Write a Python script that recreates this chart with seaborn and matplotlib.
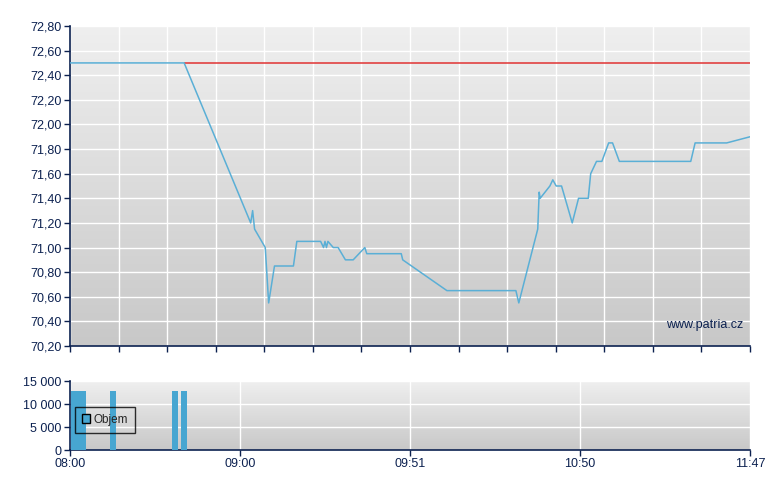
import numpy as np
import pandas as pd
import matplotlib
matplotlib.use("Agg")
import matplotlib.pyplot as plt
from matplotlib.ticker import FuncFormatter, MultipleLocator
from matplotlib.patches import Patch
import seaborn as sns

# --- data (x = position on the session axis, 14 grid steps) ---
PRICE_X = [0, 2.35, 3.72, 3.76, 3.80, 4.02, 4.09, 4.21, 4.60, 4.67, 5.16, 5.22,
           5.25, 5.28, 5.31, 5.42, 5.52, 5.67, 5.83, 6.07, 6.11, 6.82, 6.85,
           7.76, 9.18, 9.24, 9.63, 9.66, 9.68, 9.88, 9.94, 10.01, 10.12, 10.34,
           10.47, 10.67, 10.72, 10.84, 10.95, 11.09, 11.17, 11.31, 12.78, 12.87,
           13.52, 14.0]
PRICE = [72.50, 72.50, 71.20, 71.30, 71.15, 71.00, 70.55, 70.85, 70.85, 71.05,
         71.05, 71.00, 71.05, 71.00, 71.05, 71.00, 71.00, 70.90, 70.90, 71.00,
         70.95, 70.95, 70.90, 70.65, 70.65, 70.55, 71.15, 71.45, 71.40, 71.50,
         71.55, 71.50, 71.50, 71.20, 71.40, 71.40, 71.60, 71.70, 71.70, 71.85,
         71.85, 71.70, 71.70, 71.85, 71.85, 71.90]
PREV_CLOSE = 72.50
PREV_CLOSE_FROM = 2.35

VOL_X = [0.08, 0.18, 0.27, 0.89, 2.16, 2.35]
VOLUME = [12800, 12800, 12800, 12800, 12800, 12800]

TIME_TICKS = [0, 3.5, 7, 10.5, 14]
TIME_LABELS = ["08:00", "09:00", "09:51", "10:50", "11:47"]

NAVY = "#0c2150"
BLUE = "#5aafd6"
BAR_BLUE = "#47a6d1"

sns.set_theme(style="white")
plt.rcParams["font.family"] = ["Liberation Sans", "DejaVu Sans"]


def gradient_bg(ax):
    grad = np.linspace(0, 1, 256).reshape(-1, 1)
    cmap = matplotlib.colors.LinearSegmentedColormap.from_list(
        "bg", ["#efefef", "#c8c8c8"])
    ax.imshow(grad, cmap=cmap, aspect="auto", extent=[0, 1, 0, 1],
              origin="upper", transform=ax.transAxes, zorder=-10)


def style_axes(ax):
    for s in ["top", "right"]:
        ax.spines[s].set_visible(False)
    for s in ["left", "bottom"]:
        ax.spines[s].set_color(NAVY)
        ax.spines[s].set_linewidth(1.2)
    ax.tick_params(axis="both", direction="out", length=4, width=1,
                   color=NAVY, labelcolor=NAVY, labelsize=9, pad=2,
                   left=True, bottom=True)
    ax.grid(True, color="white", linewidth=1.0)
    ax.set_axisbelow(True)


fig = plt.figure(figsize=(7.8, 4.9), dpi=100)
ax1 = fig.add_axes([70 / 780, 1 - 346 / 490, 680 / 780, 320 / 490])
ax2 = fig.add_axes([70 / 780, 1 - 450 / 490, 680 / 780, 69 / 490])

# --- price chart ---
gradient_bg(ax1)
df = pd.DataFrame({"x": PRICE_X, "price": PRICE})
ax1.hlines(PREV_CLOSE, PREV_CLOSE_FROM, 14, color="#e03333", linewidth=1.1, zorder=2)
sns.lineplot(data=df, x="x", y="price", ax=ax1, color=BLUE, linewidth=1.1,
             estimator=None, sort=False, zorder=3)
ax1.set_xlim(0, 14)
ax1.set_ylim(70.2, 72.8)
ax1.xaxis.set_major_locator(MultipleLocator(1))
ax1.yaxis.set_major_locator(MultipleLocator(0.2))
ax1.yaxis.set_major_formatter(FuncFormatter(lambda v, p: f"{v:.2f}".replace(".", ",")))
ax1.set_xticklabels([])
ax1.set_xlabel("")
ax1.set_ylabel("")
style_axes(ax1)
ax1.text(0.99, 0.065, "www.patria.cz", transform=ax1.transAxes, ha="right",
         va="center", color=NAVY, fontsize=9)

# --- volume chart ---
gradient_bg(ax2)
ax2.bar(VOL_X, VOLUME, width=0.125, color=BAR_BLUE, linewidth=0, zorder=3)
ax2.set_xlim(0, 14)
ax2.set_ylim(0, 15000)
ax2.set_xticks(TIME_TICKS)
ax2.set_xticklabels(TIME_LABELS)
ax2.set_yticks([0, 5000, 10000, 15000])
ax2.yaxis.set_major_formatter(FuncFormatter(lambda v, p: f"{int(v):,}".replace(",", " ")))
style_axes(ax2)
leg = ax2.legend(handles=[Patch(facecolor=BAR_BLUE, edgecolor="black", label="Objem")],
                 loc="center left", bbox_to_anchor=(0.007, 0.44), frameon=True,
                 fontsize=8.5, handlelength=0.7, handleheight=0.7, handletextpad=0.3,
                 borderpad=0.6, fancybox=False, borderaxespad=0)
leg.get_frame().set_facecolor("none")
leg.get_frame().set_edgecolor("black")
leg.get_frame().set_linewidth(1)

fig.savefig("out.png", dpi=100)
